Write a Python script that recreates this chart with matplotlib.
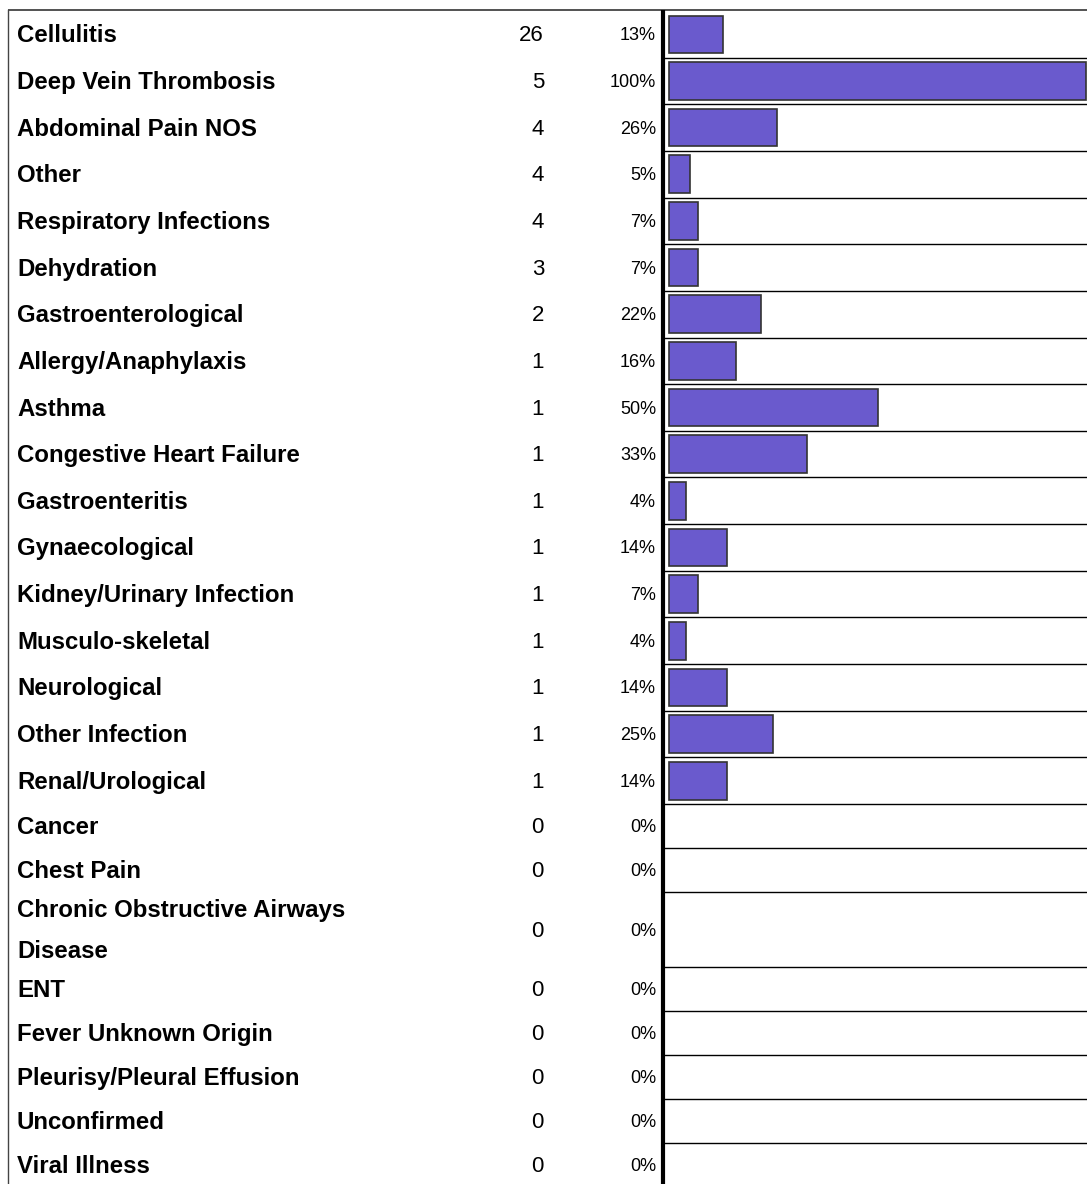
import matplotlib
matplotlib.use("Agg")
import matplotlib.pyplot as plt

plt.rcParams['font.family'] = ['Liberation Sans', 'DejaVu Sans']

# data
labels = ["Cellulitis", "Deep Vein Thrombosis", "Abdominal Pain NOS", "Other",
          "Respiratory Infections", "Dehydration", "Gastroenterological",
          "Allergy/Anaphylaxis", "Asthma", "Congestive Heart Failure",
          "Gastroenteritis", "Gynaecological", "Kidney/Urinary Infection",
          "Musculo-skeletal", "Neurological", "Other Infection",
          "Renal/Urological", "Cancer", "Chest Pain",
          "Chronic Obstructive Airways\nDisease", "ENT",
          "Fever Unknown Origin", "Pleurisy/Pleural Effusion",
          "Unconfirmed", "Viral Illness"]
counts = [26, 5, 4, 4, 4, 3, 2, 1, 1, 1, 1, 1, 1, 1, 1, 1, 1,
          0, 0, 0, 0, 0, 0, 0, 0]
percents = [13, 100, 26, 5, 7, 7, 22, 16, 50, 33, 4, 14, 7, 4, 14, 25, 14,
            0, 0, 0, 0, 0, 0, 0, 0]

W, H = 1087, 1184
top = 11

# row heights in pixels (rows with bars a bit taller, two-line row taller)
row_h = []
for lab, p in zip(labels, percents):
    if "\n" in lab:
        row_h.append(75)
    elif p > 0:
        row_h.append(46.65)
    else:
        row_h.append(44)

tops = []
y = top
for h in row_h:
    tops.append(y)
    y += h
centers = [t + h / 2 for t, h in zip(tops, row_h)]

fig = plt.figure(figsize=(W / 100, H / 100), dpi=100)

# background axes in pixel coordinates
ax = fig.add_axes([0, 0, 1, 1])
ax.set_xlim(0, W)
ax.set_ylim(H, 0)
ax.axis("off")

# border lines
ax.plot([8, W], [10, 10], color="#444444", lw=1.3, solid_capstyle="butt")
ax.plot([8, 8], [10, H], color="#444444", lw=1.0)
ax.plot([663, 663], [10, H], color="black", lw=3.0, solid_capstyle="butt")

for lab, c, p, yc in zip(labels, counts, percents, centers):
    ax.text(17, yc + 1.5, lab, ha="left", va="center", fontsize=17.3,
            fontweight="bold", linespacing=1.95)
    ax.text(544, yc + 1.5, str(c), ha="right", va="center", fontsize=16)
    ax.text(656, yc + 1.5, "{}%".format(p), ha="right", va="center",
            fontsize=13)

# separators in the bar panel
for t, h in zip(tops, row_h):
    ax.plot([665, W], [t + h, t + h], color="black", lw=1.0)

# bar axes: 0% at x=669, 100% at x=1086
x0, x1 = 665, W
bx = fig.add_axes([x0 / W, 0, (x1 - x0) / W, 1])
bx.patch.set_alpha(0)
scale = 417 / 100.0
bx.set_xlim(-(669 - x0) / scale, (x1 - 669) / scale)
bx.set_ylim(H, 0)
bx.axis("off")

# only rows with a non-zero share get a bar
bar_y = [yc for yc, p in zip(centers, percents) if p > 0]
bar_w = [p for p in percents if p > 0]
bar_h = [h - 9 for h, p in zip(row_h, percents) if p > 0]
bx.barh(bar_y, bar_w, height=bar_h, left=0, color="#6A5ACD",
        edgecolor="#333333", linewidth=1.2)

fig.savefig("out.png", dpi=100)
